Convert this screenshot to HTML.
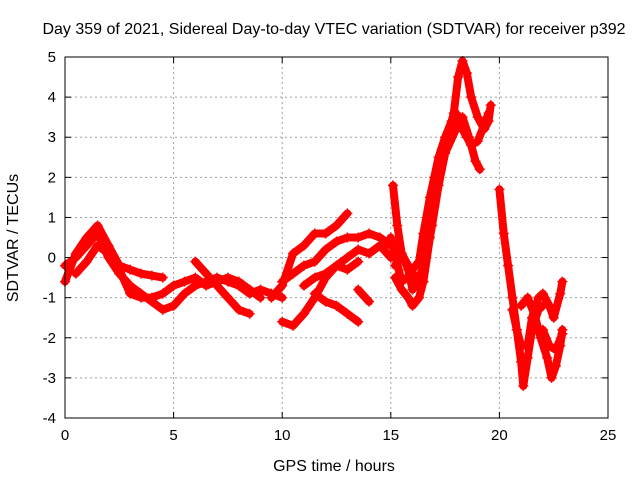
<!DOCTYPE html>
<html><head><meta charset="utf-8"><style>
body{margin:0;background:#fff}
svg{display:block;font-family:"Liberation Sans",sans-serif}
</style></head><body>
<svg id="chart" width="640" height="480" xmlns="http://www.w3.org/2000/svg">
<rect width="640" height="480" fill="#fff"/>
<g id="grid"></g>
<g id="series"></g>
<g id="axes"></g>
<text x="334" y="34" font-size="16" text-anchor="middle">Day 359 of 2021, Sidereal Day-to-day VTEC variation (SDTVAR) for receiver p392</text>
<text x="334" y="471" font-size="16" text-anchor="middle">GPS time / hours</text>
<text x="18" y="238" font-size="16" text-anchor="middle" transform="rotate(-90 18 238)">SDTVAR / TECUs</text>
</svg>
<script>
const xTicks=[0,5,10,15,20,25];
const yTicks=[-4,-3,-2,-1,0,1,2,3,4,5];
const t1=[0,0.5,1,1.5,2,2.5,3,3.5,4,4.5];
const v1=[-0.6,0.1,0.5,0.8,0.3,-0.2,-0.3,-0.4,-0.45,-0.5];
const t2=[0,0.5,1,1.5,2,2.5,3,3.5,4,4.5,5,5.5,6,6.5,7,7.5,8,8.5,9,9.5,10];
const v2=[-0.2,0,0.3,0.6,0,-0.4,-0.7,-0.9,-1.1,-1.3,-1.2,-0.9,-0.7,-0.6,-0.5,-0.6,-0.7,-0.9,-0.8,-0.9,-1.0];
const t3=[0.5,1,1.5,2,2.5,3,3.5,4,4.5,5,5.5,6,6.5,7,7.5,8,8.5,9];
const v3=[-0.4,-0.1,0.3,0.1,-0.3,-0.9,-1.0,-1.0,-0.9,-0.7,-0.6,-0.5,-0.7,-0.6,-0.5,-0.6,-0.8,-1.0];
const t4=[6,6.5,7,7.5,8,8.5];
const v4=[-0.1,-0.4,-0.7,-1.0,-1.3,-1.4];
const t5=[9.5,10,10.5,11,11.5,12,12.5,13];
const v5=[-1.0,-0.7,0.1,0.3,0.6,0.6,0.8,1.1];
const t6=[10,10.5,11,11.5,12,12.5,13,13.5,14,14.5,15];
const v6=[-1.6,-1.7,-1.4,-1.0,-0.5,-0.2,0,0.2,0.1,0.3,0];
const t7=[10,10.5,11,11.5,12,12.5,13,13.5,14,14.5,15];
const v7=[-0.6,-0.4,-0.2,-0.1,0.2,0.4,0.5,0.5,0.6,0.5,0.3];
const t8=[11,11.5,12,12.5,13,13.5];
const v8=[-0.7,-0.5,-0.4,-0.2,-0.3,-0.1];
const t9=[11.5,12,12.5,13,13.5];
const v9=[-0.9,-1.1,-1.2,-1.4,-1.6];
const t10=[13.5,14];
const v10=[-0.8,-1.1];
const t11=[15.1,15.3,15.5,15.8,16,16.3,16.5,16.8,17,17.2,17.5,17.8,18,18.3,18.5,18.7,19,19.3,19.5];
const v11=[1.8,0.8,0.1,-0.2,-0.3,-0.1,0.6,1.5,2.0,2.5,3.0,3.4,3.6,3.2,3.0,2.8,2.9,3.3,3.6];
const t12=[15.2,15.5,15.8,16,16.3,16.5,16.8,17,17.3,17.6,17.9,18.1,18.3,18.5,18.7,19,19.3,19.5,19.6];
const v12=[-0.5,-0.8,-1.0,-1.2,-1.0,-0.6,0.5,1.3,2.2,3.0,3.6,4.5,4.9,4.6,4.0,3.5,3.2,3.4,3.8];
const t13=[15.2,15.5,15.8,16,16.3,16.6,16.9,17.2,17.5,18,18.3,18.6,18.9,19.1];
const v13=[-0.2,0.1,-0.3,-0.8,-0.5,-0.1,0.8,1.8,2.6,3.2,3.5,3.0,2.4,2.2];
const t14=[15,15.5,16,16.5];
const v14=[0.5,-0.6,-0.4,-0.6];
const t15=[20,20.2,20.4,20.6,20.8,21,21.1,21.3,21.5,21.8,22];
const v15=[1.7,0.6,-0.2,-1.0,-1.8,-2.6,-3.2,-2.5,-1.8,-1.3,-1.2];
const t16=[20.6,20.8,21,21.3,21.5,21.8,22,22.3,22.5,22.8,22.9];
const v16=[-1.3,-1.8,-2.2,-2.2,-1.5,-1.0,-0.9,-1.2,-1.5,-0.9,-0.6];
const t17=[21,21.3,21.6,21.9,22.2,22.4,22.6,22.8,22.9];
const v17=[-1.2,-1.0,-1.4,-2.0,-2.5,-3.0,-2.7,-2.2,-1.8];
const t18=[22,22.3,22.6,22.9];
const v18=[-1.8,-2.2,-2.3,-1.9];
const tracks=[[t1,v1],[t2,v2],[t3,v3],[t4,v4],[t5,v5],[t6,v6],[t7,v7],[t8,v8],[t9,v9],[t10,v10],[t11,v11],[t12,v12],[t13,v13],[t14,v14],[t15,v15],[t16,v16],[t17,v17],[t18,v18]];
const L=65,R=608,T=57,B=418,x0=0,x1=25,y0=-4,y1=5;
const sx=v=>L+(v-x0)/(x1-x0)*(R-L);
const sy=v=>B-(v-y0)/(y1-y0)*(B-T);
const NS="http://www.w3.org/2000/svg";
function mk(tag,attrs,parent){const e=document.createElementNS(NS,tag);for(const k in attrs)e.setAttribute(k,attrs[k]);parent.appendChild(e);return e;}
const grid=document.getElementById('grid'),axes=document.getElementById('axes'),ser=document.getElementById('series');
xTicks.forEach(v=>{
 const x=sx(v);
 if(v>x0&&v<x1){const g=mk('line',{x1:x,x2:x,y1:T,y2:B,stroke:'#a0a0a0','stroke-dasharray':'2,3'},grid);
 
 }
 mk('line',{x1:x,x2:x,y1:B,y2:B-6,stroke:'#000'},axes);
 mk('line',{x1:x,x2:x,y1:T,y2:T+6,stroke:'#000'},axes);
 const t=mk('text',{x:x,y:B+22,'font-size':15,'text-anchor':'middle'},axes);t.textContent=v;
 
 
});
yTicks.forEach(v=>{
 const y=sy(v);
 if(v>y0&&v<y1){const g=mk('line',{x1:L,x2:R,y1:y,y2:y,stroke:'#a0a0a0','stroke-dasharray':'2,3'},grid);
 
 }
 mk('line',{x1:L,x2:L+6,y1:y,y2:y,stroke:'#000'},axes);
 mk('line',{x1:R,x2:R-6,y1:y,y2:y,stroke:'#000'},axes);
 const t=mk('text',{x:L-9,y:y+5,'font-size':15,'text-anchor':'end'},axes);t.textContent=v;
 
 
});
mk('rect',{x:L,y:T,width:R-L,height:B-T,fill:'none',stroke:'#000'},axes);
tracks.forEach(([ts,vs])=>{
 const pts=ts.map((t,i)=>sx(t)+','+sy(vs[i])).join(' ');
 const pl=mk('polyline',{points:pts,fill:'none',stroke:'#f00','stroke-width':8,'stroke-linejoin':'round','stroke-linecap':'round'},ser);
 
 
 ts.forEach((t,i)=>{
  const x=sx(t),y=sy(vs[i]);
  const p=mk('path',{d:`M${x-5},${y}H${x+5}M${x},${y-5}V${y+5}`,stroke:'#f00','stroke-width':1.5},ser);
  
  
 });
});
</script>
</body></html>
